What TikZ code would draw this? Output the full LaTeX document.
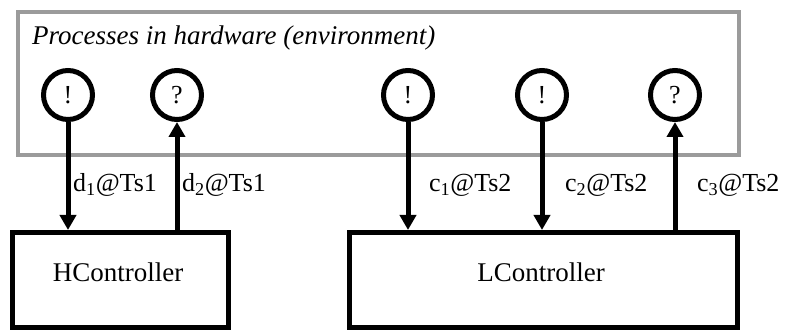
\documentclass[tikz,border=0pt]{standalone}
\usepackage{fontspec}
\setmainfont{Liberation Serif}
\usetikzlibrary{arrows.meta}
\begin{document}
\begin{tikzpicture}[x=1pt,y=-1pt,
  port/.style={circle,draw=black,line width=5pt,minimum size=49pt,inner sep=0pt,font=\fontsize{26}{30}\selectfont},
  ctrl/.style={draw=black,line width=5pt,inner sep=0pt},
  lbl/.style={anchor=base west,inner sep=0pt,font=\fontsize{26}{30}\selectfont},
  sig/.style={line width=5pt,-{Triangle[length=15pt,width=16pt]}}]
\useasboundingbox (0,0) rectangle (788,331);
\node[draw={rgb,255:red,155;green,155;blue,155},line width=4pt,minimum width=721pt,minimum height=143pt,inner sep=0pt,anchor=north west] (env) at (16,10) {};
\node[anchor=base west,inner sep=0pt,font=\fontsize{27}{31}\selectfont\itshape] (title) at (32,45) {Processes in hardware (environment)};
\node[port] (p1) at (68,95) {!};
\node[port] (p2) at (177,95) {?};
\node[port] (p3) at (408,95) {!};
\node[port] (p4) at (542,95) {!};
\node[port] (p5) at (675,95) {?};
\node[ctrl,minimum width=216pt,minimum height=95pt,anchor=north west] (H) at (10,230) {};
\node[ctrl,minimum width=388pt,minimum height=95pt,anchor=north west] (L) at (347,230) {};
\node[font=\fontsize{27}{31}\selectfont,anchor=base] (Ht) at (118,282) {HController};
\node[font=\fontsize{27}{31}\selectfont,anchor=base] (Lt) at (541,282) {LController};
\draw[sig] (p1.south) -- (p1.south |- H.north);
\draw[sig] (p2.south |- H.north) -- (p2.south);
\draw[sig] (p3.south) -- (p3.south |- L.north);
\draw[sig] (p4.south) -- (p4.south |- L.north);
\draw[sig] (p5.south |- L.north) -- (p5.south);
\node[lbl] (l1) at (73,192) {d\textsubscript{1}@Ts1};
\node[lbl] (l2) at (182,192) {d\textsubscript{2}@Ts1};
\node[lbl] (l3) at (429,192) {c\textsubscript{1}@Ts2};
\node[lbl] (l4) at (565,192) {c\textsubscript{2}@Ts2};
\node[lbl] (l5) at (697,192) {c\textsubscript{3}@Ts2};
\end{tikzpicture}
\end{document}
